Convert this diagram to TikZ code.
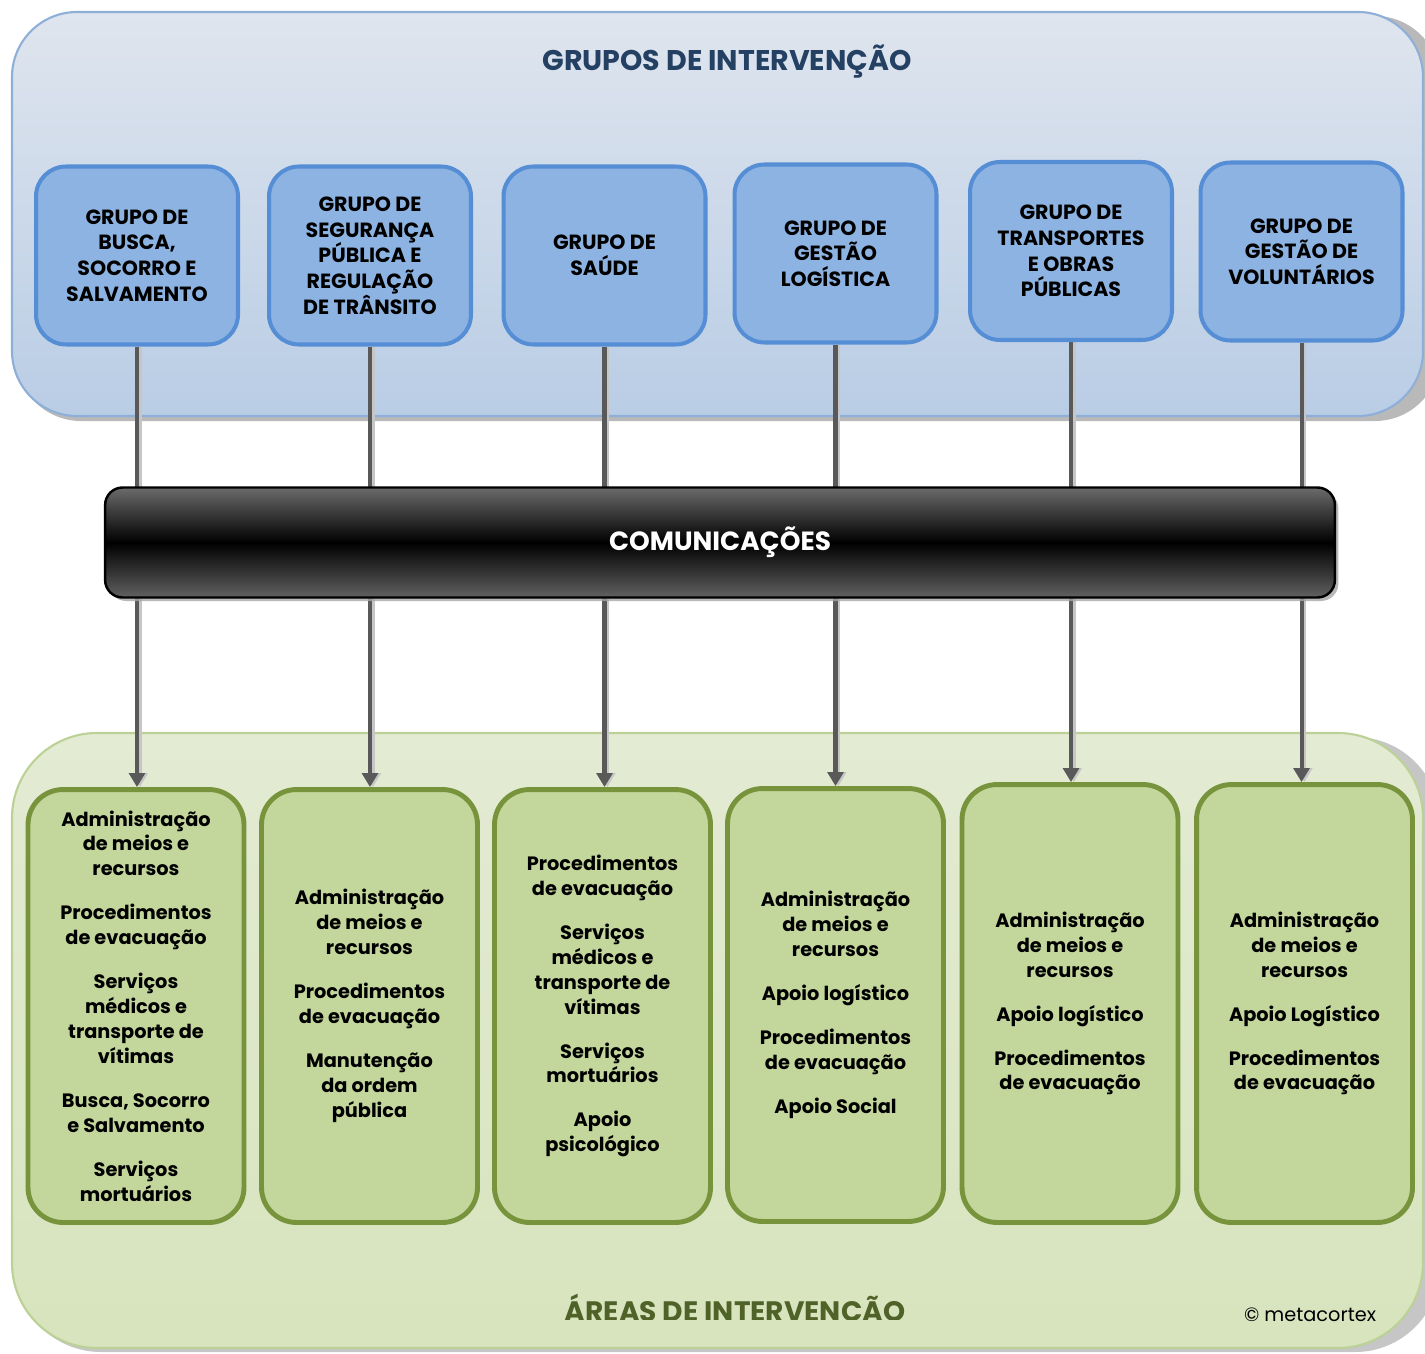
\documentclass[tikz,border=0pt]{standalone}
\usepackage{fontspec}
\setmainfont{Poppins}
\usetikzlibrary{arrows.meta,shadows}
\definecolor{grpfill}{HTML}{8DB3E2}
\definecolor{grpborder}{HTML}{558ED5}
\definecolor{arfill}{HTML}{C3D69B}
\definecolor{arborder}{HTML}{77933C}
\definecolor{toppanA}{HTML}{DFE5EE}
\definecolor{toppanB}{HTML}{B9CDE5}
\definecolor{toppanline}{HTML}{8EAFD8}
\definecolor{botpanA}{HTML}{E3EBD3}
\definecolor{botpanB}{HTML}{D7E4BD}
\definecolor{botpanline}{HTML}{BCD196}
\definecolor{titleblue}{HTML}{244062}
\definecolor{titlegreen}{HTML}{4F6228}
\definecolor{linegray}{HTML}{595959}
\pgfdeclarelayer{panels}
\pgfdeclarelayer{lines}
\pgfsetlayers{panels,lines,main}
\begin{document}
\begin{tikzpicture}[x=0.02cm,y=-0.02cm,
  grp/.style={draw=grpborder, fill=grpfill, line width=2.3pt, rounded corners=0.6cm,
    minimum width=4.04cm, minimum height=3.56cm, align=center, inner sep=0pt,
    font=\bfseries\fontsize{11.7pt}{14.6pt}\selectfont},
  area/.style={draw=arborder, fill=arfill, line width=2.8pt, rounded corners=0.7cm,
    minimum width=4.32cm, minimum height=8.66cm, align=center, inner sep=0pt,
    font=\bfseries\fontsize{11pt}{14.2pt}\selectfont},
  conn/.style={line width=2.3pt, draw=linegray, -{Triangle[width=9pt,length=8pt]},
    preaction={draw=gray!45, line width=2.3pt, -{Triangle[width=9pt,length=8pt]}, transform canvas={xshift=1.6pt}}}]
\useasboundingbox (0,0) rectangle (1425,1354);

% panels
\begin{pgfonlayer}{panels}
  \fill[gray!55] (16,16) [rounded corners=1.3cm] rectangle (1440,421);
  \draw[draw=toppanline, line width=1.2pt, top color=toppanA, bottom color=toppanB, rounded corners=1.3cm]
    (12,12) rectangle (1423,416);
  \fill[gray!45] (16,737) [rounded corners=1.7cm] rectangle (1440,1352);
  \draw[draw=botpanline, line width=1.2pt, top color=botpanA, bottom color=botpanB, rounded corners=1.7cm]
    (12,733) rectangle (1423,1348);
\end{pgfonlayer}

\node[font=\bfseries\fontsize{16.2pt}{19pt}\selectfont, text=titleblue] (t1) at (727,62) {GRUPOS DE INTERVENÇÃO};

\begin{scope}
  \clip (400,1280) rectangle (1000,1319);
  \node[font=\bfseries\fontsize{16pt}{19pt}\selectfont, text=titlegreen, anchor=base] (t2) at (735,1321) {ÁREAS DE INTERVENÇÃO};
\end{scope}
\node[font=\fontsize{11pt}{13pt}\selectfont, anchor=base] (copy) at (1310,1321) {© metacortex};

% group boxes
\node[grp] (b1) at (137,255.5) {GRUPO DE\\BUSCA,\\SOCORRO E\\SALVAMENTO};
\node[grp] (b2) at (370,255.5) {GRUPO DE\\SEGURANÇA\\PÚBLICA E\\REGULAÇÃO\\DE TRÂNSITO};
\node[grp] (b3) at (604.5,255.5) {GRUPO DE\\SAÚDE};
\node[grp] (b4) at (835.5,253.5) {GRUPO DE\\GESTÃO\\LOGÍSTICA};
\node[grp] (b5) at (1071,251) {GRUPO DE\\TRANSPORTES\\E OBRAS\\PÚBLICAS};
\node[grp] (b6) at (1301.5,251.5) {GRUPO DE\\GESTÃO DE\\VOLUNTÁRIOS};

% communications bar
\node[draw=black, line width=1.4pt, rounded corners=0.35cm, minimum width=24.6cm, minimum height=2.2cm,
  top color=black!58, bottom color=black!62, middle color=black,
  drop shadow={shadow xshift=2pt, shadow yshift=-2pt, fill=gray!70, opacity=0.8},
  text=white, font=\bfseries\fontsize{15pt}{17pt}\selectfont] (comm) at (720,542.5) {COMUNICAÇÕES};

% area boxes
\def\g{\\[10.8pt]}
\node[area] (g1) at (136,1006) {Administração\\de meios e\\recursos\g Procedimentos\\de evacuação\g Serviços\\médicos e\\transporte de\\vítimas\g Busca, Socorro\\e Salvamento\g Serviços\\mortuários};
\node[area] (g2) at (369.5,1006) {Administração\\de meios e\\recursos\g Procedimentos\\de evacuação\g Manutenção\\da ordem\\pública};
\node[area] (g3) at (602.5,1006) {Procedimentos\\de evacuação\g Serviços\\médicos e\\transporte de\\vítimas\g Serviços\\mortuários\g Apoio\\psicológico};
\node[area] (g4) at (835.5,1005) {Administração\\de meios e\\recursos\g Apoio logístico\g Procedimentos\\de evacuação\g Apoio Social};
\node[area, minimum height=8.76cm] (g5) at (1070,1003.5) {Administração\\de meios e\\recursos\g Apoio logístico\g Procedimentos\\de evacuação};
\node[area, minimum height=8.76cm] (g6) at (1304.5,1003.5) {Administração\\de meios e\\recursos\g Apoio Logístico\g Procedimentos\\de evacuação};

% connectors
\begin{pgfonlayer}{lines}
\foreach \i in {1,...,6}{
  \draw[conn] (b\i.south) -- (b\i.south |- g\i.north);
}
\end{pgfonlayer}
\end{tikzpicture}
\end{document}
